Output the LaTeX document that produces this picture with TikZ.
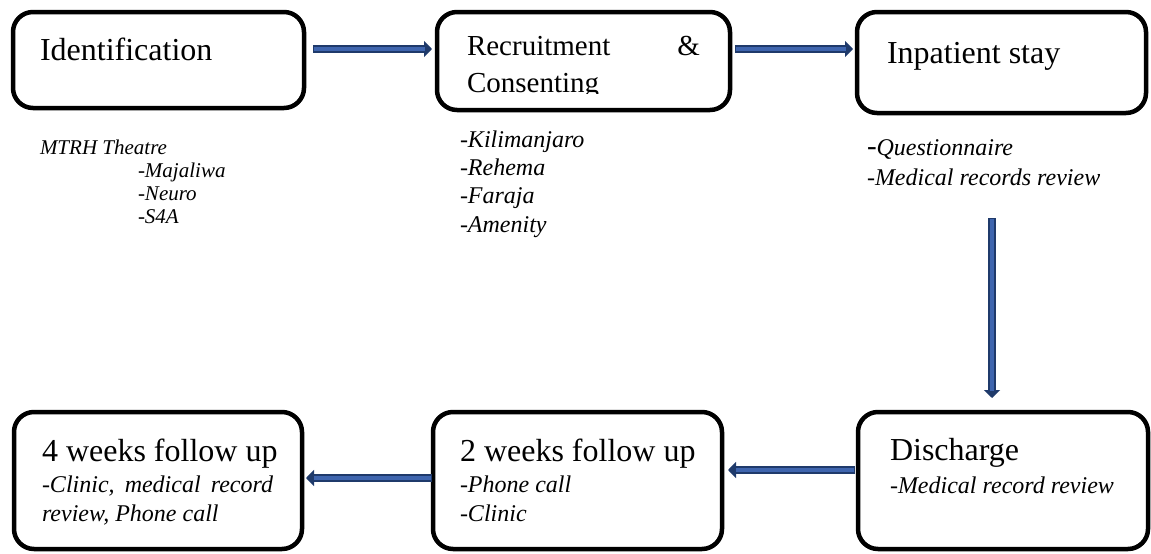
\documentclass[tikz,border=0pt]{standalone}
\usepackage{fontspec}
\setmainfont{Liberation Serif}
\usetikzlibrary{arrows.meta}
\definecolor{arrdark}{HTML}{1F3A6B}
\definecolor{arrfill}{HTML}{3F65AE}
\tikzset{
  stepbox/.style={draw=black, line width=4.5pt, rounded corners=20pt, inner sep=0pt, outer sep=0pt, fill=white},
  titletext/.style={anchor=base west, inner sep=0pt, outer sep=0pt, font=\fontsize{32}{38}\selectfont},
  smalltext/.style={anchor=base west, inner sep=0pt, outer sep=0pt, align=left, font=\fontsize{24}{28.3}\selectfont\itshape},
  tinytext/.style={anchor=base west, inner sep=0pt, outer sep=0pt, align=left, font=\fontsize{21}{22.7}\selectfont\itshape},
  arrowouter/.style={draw=arrdark, line width=7.5pt, -{Triangle[length=8pt,width=16pt]}},
  arrowinner/.style={draw=arrfill, line width=4.2pt}
}
\begin{document}
\begin{tikzpicture}[x=1pt,y=-1pt]
\useasboundingbox (0,0) rectangle (1151,554);
\fill[white] (0,0) rectangle (1151,554);

% boxes
\node[stepbox, minimum width=291pt, minimum height=96pt] (b1) at (158.5,60) {};
\node[stepbox, minimum width=293pt, minimum height=98pt] (b2) at (583.5,61) {};
\node[stepbox, minimum width=289pt, minimum height=101pt] (b3) at (1001.5,62.5) {};
\node[stepbox, minimum width=288pt, minimum height=137pt] (b4) at (158,480.5) {};
\node[stepbox, minimum width=289pt, minimum height=137pt] (b5) at (577.5,480.5) {};
\node[stepbox, minimum width=290pt, minimum height=137pt] (b6) at (1003,480.5) {};

% titles (base anchor of a multi-line node = baseline of its last line)
\node[titletext] (t1) at (40,60) {Identification};
\begin{scope}
\clip (440,15) rectangle (727,93.5);
\node[titletext, font=\fontsize{29}{37}\selectfont, align=left] (t2) at (467,92)
  {\hbox to 233pt{Recruitment\hfill\&}\\Consenting};
\end{scope}
\node[titletext] (t3) at (887,63) {Inpatient stay};
\node[titletext] (t4) at (42,461) {4 weeks follow up};
\node[titletext] (t5) at (460,461) {2 weeks follow up};
\node[titletext] (t6) at (890,460) {Discharge};

% sub texts
\node[tinytext] (s1) at (40,223) {MTRH Theatre\\\hspace*{98pt}-Majaliwa\\\hspace*{98pt}-Neuro\\\hspace*{98pt}-S4A};
\node[smalltext] (s2) at (460,232) {-Kilimanjaro\\-Rehema\\-Faraja\\-Amenity};
\node[smalltext, font=\fontsize{24}{30}\selectfont\itshape] (s3) at (867,185)
  {{\upshape\fontsize{29}{30}\selectfont -}Questionnaire\\-Medical records review};
\node[smalltext] (s4) at (42,521) {\hbox to 231pt{-Clinic,\hfill medical\hfill record}\\review, Phone call};
\node[smalltext] (s5) at (460,521) {-Phone call\\-Clinic};
\node[smalltext] (s6) at (890,493) {-Medical record review};

% connectors
\draw[arrowouter, shorten <=9pt, shorten >=5pt] ([yshift=11pt]b1.east) -- ([yshift=11pt]b1.east -| b2.west);
\draw[arrowinner, shorten <=10.3pt, shorten >=12.5pt] ([yshift=11pt]b1.east) -- ([yshift=11pt]b1.east -| b2.west);

\draw[arrowouter, shorten <=5pt, shorten >=4pt] ([yshift=12pt]b2.east) -- ([yshift=12pt]b2.east -| b3.west);
\draw[arrowinner, shorten <=6.3pt, shorten >=11.5pt] ([yshift=12pt]b2.east) -- ([yshift=12pt]b2.east -| b3.west);

\draw[arrowouter, shorten <=105pt, shorten >=14pt] ([xshift=-9.5pt]b3.south) -- ([xshift=-9.5pt]b3.south |- b6.north);
\draw[arrowinner, shorten <=106.3pt, shorten >=21.5pt] ([xshift=-9.5pt]b3.south) -- ([xshift=-9.5pt]b3.south |- b6.north);

\draw[arrowouter, shorten <=3pt, shorten >=6pt] ([yshift=10.5pt]b6.west) -- ([yshift=10.5pt]b6.west -| b5.east);
\draw[arrowinner, shorten <=4.3pt, shorten >=13.5pt] ([yshift=10.5pt]b6.west) -- ([yshift=10.5pt]b6.west -| b5.east);

\draw[arrowouter, shorten <=1pt, shorten >=4pt] ([yshift=2.5pt]b5.west) -- ([yshift=2.5pt]b5.west -| b4.east);
\draw[arrowinner, shorten <=2.3pt, shorten >=11.5pt] ([yshift=2.5pt]b5.west) -- ([yshift=2.5pt]b5.west -| b4.east);
\end{tikzpicture}
\end{document}
